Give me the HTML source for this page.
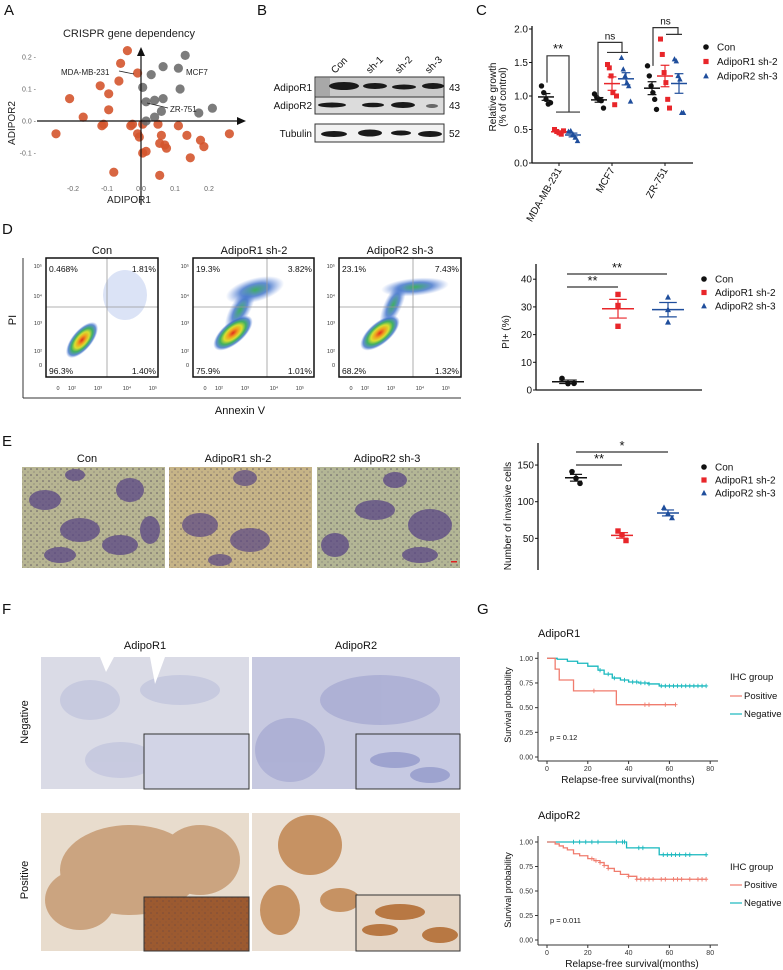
<!DOCTYPE html>
<html><head><meta charset="utf-8"><style>
html,body{margin:0;padding:0;background:#fff}
svg{display:block;font-family:"Liberation Sans",Arial,sans-serif}
</style></head><body>
<svg id="fig" width="783" height="970" viewBox="0 0 783 970" xmlns="http://www.w3.org/2000/svg">
<defs>
<radialGradient id="dens" cx="50%" cy="50%" r="50%">
<stop offset="0" stop-color="#e0301e"/><stop offset="0.25" stop-color="#f0a020"/><stop offset="0.45" stop-color="#d8e030"/><stop offset="0.65" stop-color="#40b060"/><stop offset="0.85" stop-color="#3a6fc8" stop-opacity="0.8"/><stop offset="1" stop-color="#6a8fe0" stop-opacity="0"/>
</radialGradient>
<radialGradient id="densb" cx="50%" cy="50%" r="50%">
<stop offset="0" stop-color="#40b060"/><stop offset="0.5" stop-color="#3a6fc8" stop-opacity="0.8"/><stop offset="1" stop-color="#6a8fe0" stop-opacity="0"/>
</radialGradient>
<pattern id="dots" width="6" height="6" patternUnits="userSpaceOnUse"><circle cx="1" cy="1" r="0.8" fill="#3d3350" opacity="0.7"/><circle cx="4" cy="4" r="0.6" fill="#3d3350" opacity="0.5"/></pattern>
</defs>

<g font-size="15" fill="#111">
<text x="4" y="15">A</text><text x="257" y="15">B</text><text x="476" y="15">C</text>
<text x="2" y="234">D</text><text x="2" y="446">E</text><text x="2" y="614">F</text><text x="477" y="614">G</text>
</g>

<g id="panelA">
<text x="129" y="37" font-size="11" text-anchor="middle" fill="#222">CRISPR gene dependency</text>
<g id="aPts"></g>
<line x1="37" y1="121" x2="240" y2="121" stroke="#111" stroke-width="1.2"/>
<polygon points="246,121 237,117 237,125" fill="#111"/>
<line x1="141" y1="205" x2="141" y2="54" stroke="#111" stroke-width="1.2"/>
<polygon points="141,47 137,56 145,56" fill="#111"/>
<g id="aTicks" font-size="7" fill="#666"></g>
<text x="129" y="203" font-size="10" text-anchor="middle" fill="#222">ADIPOR1</text>
<text transform="translate(15,123) rotate(-90)" font-size="10" text-anchor="middle" fill="#222">ADIPOR2</text>
<text x="61" y="75" font-size="8" fill="#222">MDA-MB-231</text>
<line x1="119" y1="71" x2="134" y2="74" stroke="#222" stroke-width="0.8"/>
<text x="186" y="75" font-size="8" fill="#222">MCF7</text>
<text x="170" y="112" font-size="8" fill="#222">ZR-751</text>
<line x1="147" y1="103" x2="168" y2="108" stroke="#222" stroke-width="0.8"/>
</g>

<g id="panelB" font-size="10" fill="#111">
<text transform="translate(335,74) rotate(-45)">Con</text>
<text transform="translate(370,74) rotate(-45)">sh-1</text>
<text transform="translate(399,74) rotate(-45)">sh-2</text>
<text transform="translate(429,74) rotate(-45)">sh-3</text>
<rect x="315" y="77" width="129" height="20" fill="#c9c9c9" stroke="#333"/>
<rect x="315" y="97" width="129" height="17" fill="#dcdcdc" stroke="#333"/>
<rect x="315" y="124" width="129" height="18" fill="#f2f2f2" stroke="#333"/>
<rect x="316" y="78" width="14" height="18" fill="#888" opacity="0.5"/>
<g fill="#1a1a1a">
<ellipse cx="344" cy="86" rx="15" ry="4"/><ellipse cx="375" cy="86" rx="12" ry="3"/><ellipse cx="404" cy="87" rx="12" ry="2.5"/><ellipse cx="433" cy="86" rx="11" ry="3"/>
<ellipse cx="332" cy="105" rx="14" ry="2.5"/><ellipse cx="373" cy="105" rx="11" ry="2.3"/><ellipse cx="403" cy="105" rx="12" ry="3"/><ellipse cx="432" cy="106" rx="6" ry="2" opacity="0.6"/>
<ellipse cx="334" cy="134" rx="13" ry="3"/><ellipse cx="370" cy="133" rx="12" ry="3.5"/><ellipse cx="401" cy="133" rx="10" ry="2.5"/><ellipse cx="430" cy="134" rx="12" ry="3"/>
</g>
<text x="312" y="91" text-anchor="end">AdipoR1</text>
<text x="312" y="109" text-anchor="end">AdipoR2</text>
<text x="312" y="137" text-anchor="end">Tubulin</text>
<text x="449" y="91">43</text>
<text x="449" y="109">43</text>
<text x="449" y="137">52</text>
</g>

<g id="panelC">
<text transform="translate(496,97) rotate(-90)" font-size="10" text-anchor="middle" fill="#111">Relative growth</text>
<text transform="translate(506,97) rotate(-90)" font-size="10" text-anchor="middle" fill="#111">(% of control)</text>
<g id="cAxis"></g><g id="cMarks"></g>
<g id="cLegend" font-size="10" fill="#111"></g>
</g>

<g id="panelD">
<g font-size="11" text-anchor="middle" fill="#111">
<text x="102" y="254">Con</text>
<text x="254" y="254">AdipoR1 sh-2</text>
<text x="400" y="254">AdipoR2 sh-3</text>
</g>
<g id="flowPlots"></g>
<line x1="23" y1="258" x2="23" y2="398" stroke="#333"/>
<line x1="23" y1="398" x2="461" y2="398" stroke="#333"/>
<text transform="translate(16,320) rotate(-90)" font-size="11" text-anchor="middle" fill="#111">PI</text>
<text x="240" y="414" font-size="11" text-anchor="middle" fill="#111">Annexin V</text>
</g>

<g id="panelDr">
<text transform="translate(509,332) rotate(-90)" font-size="10" text-anchor="middle" fill="#111">PI+ (%)</text>
<g id="dAxis"></g><g id="dMarks"></g><g id="dLegend" font-size="10" fill="#111"></g>
</g>

<g id="panelE">
<g font-size="11" text-anchor="middle" fill="#111">
<text x="87" y="462">Con</text>
<text x="238" y="462">AdipoR1 sh-2</text>
<text x="387" y="462">AdipoR2 sh-3</text>
</g>
<g>
<rect x="22" y="467" width="143" height="101" fill="#b7b592"/>
<rect x="22" y="467" width="143" height="101" fill="url(#dots)"/>
<g fill="#5a4785" opacity="0.75"><ellipse cx="45" cy="500" rx="16" ry="10"/><ellipse cx="80" cy="530" rx="20" ry="12"/><ellipse cx="130" cy="490" rx="14" ry="12"/><ellipse cx="120" cy="545" rx="18" ry="10"/><ellipse cx="60" cy="555" rx="16" ry="8"/><ellipse cx="75" cy="475" rx="10" ry="6"/><ellipse cx="150" cy="530" rx="10" ry="14"/></g>
</g>
<g>
<rect x="169" y="467" width="143" height="101" fill="#c6b487"/>
<rect x="169" y="467" width="143" height="101" fill="url(#dots)"/>
<g fill="#5a4785" opacity="0.7"><ellipse cx="245" cy="478" rx="12" ry="8"/><ellipse cx="200" cy="525" rx="18" ry="12"/><ellipse cx="250" cy="540" rx="20" ry="12"/><ellipse cx="220" cy="560" rx="12" ry="6"/></g>
</g>
<g>
<rect x="317" y="467" width="143" height="101" fill="#b3b695"/>
<rect x="317" y="467" width="143" height="101" fill="url(#dots)"/>
<g fill="#5a4785" opacity="0.75"><ellipse cx="395" cy="480" rx="12" ry="8"/><ellipse cx="375" cy="510" rx="20" ry="10"/><ellipse cx="430" cy="525" rx="22" ry="16"/><ellipse cx="335" cy="545" rx="14" ry="12"/><ellipse cx="420" cy="555" rx="18" ry="8"/></g>
<rect x="451" y="561" width="6" height="1.5" fill="#d22"/>
</g>
</g>

<g id="panelEr">
<text transform="translate(511,516) rotate(-90)" font-size="10" text-anchor="middle" fill="#111">Number of invasive cells</text>
<g id="eAxis"></g><g id="eMarks"></g><g id="eLegend" font-size="10" fill="#111"></g>
</g>

<g id="panelF">
<text x="145" y="649" font-size="11" text-anchor="middle" fill="#111">AdipoR1</text>
<text x="356" y="649" font-size="11" text-anchor="middle" fill="#111">AdipoR2</text>
<text transform="translate(28,722) rotate(-90)" font-size="11" text-anchor="middle" fill="#111">Negative</text>
<text transform="translate(28,880) rotate(-90)" font-size="11" text-anchor="middle" fill="#111">Positive</text>
<g>
<rect x="41" y="657" width="208" height="132" fill="#dadbe6"/>
<g fill="#c3c6de" opacity="0.8"><ellipse cx="90" cy="700" rx="30" ry="20"/><ellipse cx="180" cy="690" rx="40" ry="15"/><ellipse cx="120" cy="760" rx="35" ry="18"/></g>
<path d="M100 657 L106 672 L114 657Z M150 657 L155 684 L165 657Z" fill="#fff"/>
<rect x="144" y="734" width="105" height="55" fill="#d2d4e6" stroke="#333"/>
</g>
<g>
<rect x="252" y="657" width="208" height="132" fill="#c7c9e0"/>
<g fill="#a9acd3" opacity="0.8"><ellipse cx="290" cy="750" rx="35" ry="32"/><ellipse cx="380" cy="700" rx="60" ry="25"/></g>
<rect x="356" y="734" width="104" height="55" fill="#c6c9e2" stroke="#333"/>
<g fill="#8d93c8" opacity="0.7"><ellipse cx="395" cy="760" rx="25" ry="8"/><ellipse cx="430" cy="775" rx="20" ry="8"/></g>
</g>
<g>
<rect x="41" y="813" width="208" height="138" fill="#e8dccd"/>
<g fill="#c79b73" opacity="0.85"><ellipse cx="130" cy="870" rx="70" ry="45"/><ellipse cx="200" cy="860" rx="40" ry="35"/><ellipse cx="80" cy="900" rx="35" ry="30"/></g>
<rect x="144" y="897" width="105" height="54" fill="#9c5a30" stroke="#333"/>
<rect x="144" y="897" width="105" height="54" fill="url(#dots)" opacity="0.5"/>
</g>
<g>
<rect x="252" y="813" width="208" height="138" fill="#eadfd3"/>
<g fill="#c08550" opacity="0.85"><ellipse cx="310" cy="845" rx="32" ry="30"/><ellipse cx="280" cy="910" rx="20" ry="25"/><ellipse cx="340" cy="900" rx="20" ry="12"/></g>
<rect x="356" y="895" width="104" height="56" fill="#e5d6c6" stroke="#333"/>
<g fill="#b87843"><ellipse cx="400" cy="912" rx="25" ry="8"/><ellipse cx="380" cy="930" rx="18" ry="6"/><ellipse cx="440" cy="935" rx="18" ry="8"/></g>
</g>
</g>

<g id="panelG">
<text x="538" y="637" font-size="11" fill="#111">AdipoR1</text>
<text x="538" y="819" font-size="11" fill="#111">AdipoR2</text>
<g id="km1"></g><g id="km2"></g>
<text x="628" y="783" font-size="10" text-anchor="middle" fill="#111">Relapse-free survival(months)</text>
<text x="632" y="967" font-size="10" text-anchor="middle" fill="#111">Relapse-free survival(months)</text>
<text transform="translate(511,705) rotate(-90)" font-size="9" text-anchor="middle" fill="#111">Survival probability</text>
<text transform="translate(511,890) rotate(-90)" font-size="9" text-anchor="middle" fill="#111">Survival probability</text>
<text x="550" y="740" font-size="7.5" fill="#111">p = 0.12</text>
<text x="550" y="923" font-size="7.5" fill="#111">p = 0.011</text>
<g font-size="9.5" fill="#111">
<text x="730" y="680">IHC group</text>
<text x="744" y="699">Positive</text>
<text x="744" y="717">Negative</text>
<text x="730" y="870">IHC group</text>
<text x="744" y="888">Positive</text>
<text x="744" y="906">Negative</text>
</g>
<g stroke-width="1.2">
<line x1="730" y1="696" x2="742" y2="696" stroke="#f07c6e"/><line x1="730" y1="714" x2="742" y2="714" stroke="#17b8be"/>
<line x1="730" y1="885" x2="742" y2="885" stroke="#f07c6e"/><line x1="730" y1="903" x2="742" y2="903" stroke="#17b8be"/>
</g>
</g>
</svg>

<script>
var aRedX = [-0.04,-0.06,-0.01,-0.065,-0.12,-0.21,-0.095,-0.095,-0.17,-0.25,-0.115,-0.11,-0.03,-0.025,0.005,-0.01,-0.005,0.05,0.06,0.055,0.07,0.075,0.11,0.135,0.175,0.185,0.145,0.26,0.005,0.015,-0.08,0.055];
var aRedY = [0.22,0.18,0.15,0.125,0.11,0.07,0.085,0.035,0.012,-0.04,-0.015,-0.01,-0.015,-0.01,-0.01,-0.04,-0.05,-0.01,-0.045,-0.07,-0.075,-0.085,-0.015,-0.045,-0.06,-0.08,-0.115,-0.04,-0.1,-0.095,-0.16,-0.17];
var aGrayX = [0.13,0.065,0.11,0.03,0.005,0.115,0.015,0.04,0.065,0.06,0.21,0.17,0.04,0.015];
var aGrayY = [0.205,0.17,0.165,0.145,0.105,0.1,0.06,0.065,0.07,0.03,0.04,0.025,0.012,0.0];
var aXTicks = [-0.2,-0.1,0.0,0.1,0.2];
var aYTicks = [-0.1,0.0,0.1,0.2];
var cGroups = ["MDA-MB-231","MCF7","ZR-751"];
var cCon = [[1.15,1.05,0.95,0.88,0.9],[1.03,0.98,0.95,0.93,0.82],[1.45,1.3,1.15,1.05,0.95,0.8]];
var cR1 = [[0.5,0.47,0.45,0.43,0.48],[1.47,1.42,1.3,1.05,0.87,1.0],[1.85,1.62,1.35,1.2,0.95,0.82]];
var cR2 = [[0.47,0.48,0.43,0.38,0.33],[1.57,1.4,1.3,1.2,1.15,0.92],[1.55,1.52,1.3,1.25,0.75,0.75]];
var cYTicks = [0,0.5,1.0,1.5,2.0];
var dCon = [4.2,2.3,2.4];
var dR1 = [34.5,30.5,23];
var dR2 = [33.5,29,24.5];
var dYTicks = [0,10,20,30,40];
var eCon = [141,132,125];
var eR1 = [60,55,47];
var eR2 = [92,84,78];
var eYTicks = [50,100,150];
var km1NegT = [0,5,10,15,20,25,28,32,36,40,45,50,55,78];
var km1NegS = [1,0.99,0.97,0.95,0.92,0.88,0.84,0.8,0.78,0.76,0.75,0.74,0.72,0.72];
var km1PosT = [0,4,6,13,34,63];
var km1PosS = [1,0.89,0.78,0.67,0.53,0.53];
var km1NegCens = [26,30,33,38,42,44,46,48,50,56,58,60,62,64,66,68,70,72,74,76,78];
var km1PosCens = [23,48,50,58,63];
var km2NegT = [0,39,55,78];
var km2NegS = [1,0.94,0.87,0.87];
var km2PosT = [0,4,6,8,10,13,16,20,23,26,28,30,33,36,40,44,78];
var km2PosS = [1,0.98,0.96,0.94,0.92,0.88,0.86,0.83,0.81,0.79,0.76,0.73,0.7,0.67,0.65,0.62,0.62];
var km2NegCens = [13,16,19,22,25,34,37,38,45,47,57,59,61,63,65,68,70,78];
var km2PosCens = [22,24,26,28,30,40,44,46,48,50,52,56,58,62,64,66,70,74,76,78];
var kmXTicks = [0,20,40,60,80];
var kmYTicks = [0,0.25,0.5,0.75,1.0];

var NS = "http://www.w3.org/2000/svg";
function mk(tag, attrs, parent){var e=document.createElementNS(NS,tag);for(var k in attrs)e.setAttribute(k,attrs[k]);parent.appendChild(e);return e;}
function fmt2(v){return v.toFixed(2);}

function ax(v){return 141+v*340;}
function ay(v){return 121-v*320;}
var aPts=document.getElementById('aPts');
for(var i=0;i<aRedX.length;i++){var c=mk('circle',{cx:ax(aRedX[i]),cy:ay(aRedY[i]),r:4.6,fill:'#d4552e','fill-opacity':0.9},aPts);

}
for(var i=0;i<aGrayX.length;i++){var c=mk('circle',{cx:ax(aGrayX[i]),cy:ay(aGrayY[i]),r:4.6,fill:'#6e6e6e','fill-opacity':0.9},aPts);

}
var aT=document.getElementById('aTicks');
aXTicks.forEach(function(v){var t=mk('text',{x:ax(v),y:191,'text-anchor':'middle'},aT);t.textContent=v.toFixed(1);

});
aYTicks.forEach(function(v){var t=mk('text',{x:36,y:ay(v)+2.5,'text-anchor':'end'},aT);t.textContent=v.toFixed(1)+' -';

});

function marker(g,type,x,y,s){
 var e;
 if(type==0) e=mk('circle',{cx:x,cy:y,r:s,fill:'#111'},g);
 else if(type==1) e=mk('rect',{x:x-s,y:y-s,width:2*s,height:2*s,fill:'#e8262a'},g);
 else e=mk('polygon',{points:(x)+','+(y-s*1.2)+' '+(x-s*1.1)+','+(y+s*0.9)+' '+(x+s*1.1)+','+(y+s*0.9),fill:'#1f4e9c'},g);
 
 
}
var colors=['#111','#e8262a','#1f4e9c'];
function meanSem(arr){var m=arr.reduce(function(a,b){return a+b;},0)/arr.length;var sd=Math.sqrt(arr.reduce(function(a,b){return a+(b-m)*(b-m);},0)/(arr.length-1));return [m,sd/Math.sqrt(arr.length)];}
function errBar(g,x,arr,yf,col,w){
 var ms=meanSem(arr);var m=ms[0],s=ms[1];
 var l=mk('line',{x1:x-w,x2:x+w,y1:yf(m),y2:yf(m),stroke:col,'stroke-width':1.5},g);
 
 
 var v=mk('line',{x1:x,x2:x,y1:yf(m+s),y2:yf(m-s),stroke:col,'stroke-width':1.2},g);
 
 
 mk('line',{x1:x-w*0.55,x2:x+w*0.55,y1:yf(m+s),y2:yf(m+s),stroke:col,'stroke-width':1.2},g);
 mk('line',{x1:x-w*0.55,x2:x+w*0.55,y1:yf(m-s),y2:yf(m-s),stroke:col,'stroke-width':1.2},g);
}
function spreadX(n,i,w){if(n<=1)return 0;return (i/(n-1)-0.5)*w;}
function legend(gid,x,y0,dy){
 var g=document.getElementById(gid);var names=['Con','AdipoR1 sh-2','AdipoR2 sh-3'];
 for(var i=0;i<3;i++){marker(g,i,x,y0+i*dy,i==0?2.8:2.6);var t=mk('text',{x:x+11,y:y0+i*dy+3.5},g);t.textContent=names[i];
 
 }
}

function cy(v){return 163-v*67;}
var cA=document.getElementById('cAxis');
mk('line',{x1:532,y1:26,x2:532,y2:163,stroke:'#111','stroke-width':1.3},cA);
mk('line',{x1:532,y1:163,x2:693,y2:163,stroke:'#111','stroke-width':1.3},cA);
cYTicks.forEach(function(v){mk('line',{x1:529,x2:532,y1:cy(v),y2:cy(v),stroke:'#111'},cA);
var t=mk('text',{x:528,y:cy(v)+3.5,'text-anchor':'end','font-size':10,fill:'#111'},cA);t.textContent=v.toFixed(1);

});
var cCenters=[559,612,665];
cGroups.forEach(function(gname,gi){var x=cCenters[gi];mk('line',{x1:x,x2:x,y1:163,y2:166,stroke:'#111'},cA);
var t=mk('text',{transform:'translate('+(x+3)+',170) rotate(-60)','text-anchor':'end','font-size':10,fill:'#111'},cA);t.textContent=gname;

});
var cM=document.getElementById('cMarks');
var cOff=[-13,0,14];
[cCon,cR1,cR2].forEach(function(ser,si){ser.forEach(function(arr,gi){var xc=cCenters[gi]+cOff[si];
 arr.forEach(function(v,i){marker(cM,si,xc+spreadX(arr.length,i,9),cy(v),si==0?2.7:2.5);});
 errBar(cM,xc,arr,cy,colors[si],8);});});
var br=[[547,cy(1.2),cy(1.6),569,cy(0.76),556,580],[598,cy(0.98),cy(1.8),622,cy(1.65),607,628],[653,cy(1.45),cy(2.02),678,cy(1.92),666,682]];
var brLbl=['**','ns','ns'];
br.forEach(function(b,i){var p=mk('path',{d:'M'+b[0]+','+b[1]+' V'+b[2]+' H'+b[3]+' V'+b[4]+' M'+b[5]+','+b[4]+' H'+b[6],fill:'none',stroke:'#333','stroke-width':1.2},cM);


var t=mk('text',{x:(b[0]+b[3])/2,y:b[2]-3,'text-anchor':'middle','font-size':i==0?13:10,fill:'#111'},cM);t.textContent=brLbl[i];

});
legend('cLegend',706,47,14.5);

var fp=document.getElementById('flowPlots');
var flows=[
 {x:46,w:112,qx:107,pct:['0.468%','1.81%','96.3%','1.40%'],cl:[[82,340,22,10,-50,'url(#dens)'],[125,295,22,25,0,'#dbe3f6']]},
 {x:193,w:121,qx:267,pct:['19.3%','3.82%','75.9%','1.01%'],cl:[[255,290,30,12,-15,'url(#densb)'],[240,310,25,10,-60,'url(#densb)'],[233,333,24,11,-40,'url(#dens)']]},
 {x:339,w:122,qx:413,pct:['23.1%','7.43%','68.2%','1.32%'],cl:[[415,287,34,9,-5,'url(#densb)'],[393,305,25,9,-65,'url(#densb)'],[380,333,24,11,-40,'url(#dens)']]}
];
var flowXT=['0','10²','10³','10⁴','10⁵'];var flowXTpos=[12,26,52,81,107];
var flowYT=['10⁵','10⁴','10³','10²','0'];var flowYTpos=[268,298,325,353,367];
flows.forEach(function(f,fi){
 var g=mk('g',{},fp);
 
 
 mk('rect',{x:f.x,y:258,width:f.w,height:119,fill:'#fff'},g);
 f.cl.forEach(function(c){mk('ellipse',{cx:c[0],cy:c[1],rx:c[2],ry:c[3],transform:'rotate('+c[4]+' '+c[0]+' '+c[1]+')',fill:c[5]},g);});
 mk('line',{x1:f.qx,x2:f.qx,y1:258,y2:377,stroke:'#999','stroke-width':0.8},g);
 mk('line',{x1:f.x,x2:f.x+f.w,y1:307,y2:307,stroke:'#999','stroke-width':0.8},g);
 mk('rect',{x:f.x,y:258,width:f.w,height:119,fill:'none',stroke:'#111','stroke-width':1.5},g);
 var P=[[f.x+3,272,'start'],[f.x+f.w-2,272,'end'],[f.x+3,374,'start'],[f.x+f.w-2,374,'end']];
 P.forEach(function(p,i){var t=mk('text',{x:p[0],y:p[1],'text-anchor':p[2],'font-size':8.5,fill:'#111'},g);t.textContent=f.pct[i];
 
 });
 flowXT.forEach(function(s,i){var t=mk('text',{x:f.x+flowXTpos[i],y:390,'font-size':5.5,'text-anchor':'middle',fill:'#333'},g);t.textContent=s;});
 flowYT.forEach(function(s,i){var t=mk('text',{x:f.x-4,y:flowYTpos[i],'font-size':5.5,'text-anchor':'end',fill:'#333'},g);t.textContent=s;});
});

function dy(v){return 390-v*2.77;}
var dA=document.getElementById('dAxis');
mk('line',{x1:536,y1:264,x2:536,y2:390,stroke:'#111','stroke-width':1.3},dA);
mk('line',{x1:536,y1:390,x2:702,y2:390,stroke:'#111','stroke-width':1.3},dA);
dYTicks.forEach(function(v){mk('line',{x1:533,x2:536,y1:dy(v),y2:dy(v),stroke:'#111'},dA);
var t=mk('text',{x:532,y:dy(v)+3.5,'text-anchor':'end','font-size':10,fill:'#111'},dA);t.textContent=v;

});
var dM=document.getElementById('dMarks');var dC=[568,618,668];
[dCon,dR1,dR2].forEach(function(arr,si){arr.forEach(function(v,i){marker(dM,si,dC[si]+(si==0?spreadX(3,i,12):0),dy(v),si==0?2.8:2.7);});errBar(dM,dC[si],arr,dy,colors[si],16);});
[[567,618,287,'**'],[567,667,274,'**']].forEach(function(b){var l=mk('line',{x1:b[0],x2:b[1],y1:b[2],y2:b[2],stroke:'#333','stroke-width':1.2},dM);


var t=mk('text',{x:(b[0]+b[1])/2,y:b[2]-2,'text-anchor':'middle','font-size':13,fill:'#111'},dM);t.textContent=b[3];});
legend('dLegend',704,279,13.5);

function ey(v){return 575-v*0.733;}
var eA=document.getElementById('eAxis');
mk('line',{x1:538,y1:443,x2:538,y2:570,stroke:'#111','stroke-width':1.3},eA);
eYTicks.forEach(function(v){mk('line',{x1:535,x2:538,y1:ey(v),y2:ey(v),stroke:'#111'},eA);
var t=mk('text',{x:534,y:ey(v)+3.5,'text-anchor':'end','font-size':10,fill:'#111'},eA);t.textContent=v;

});
var eM=document.getElementById('eMarks');var eC=[576,622,668];
[eCon,eR1,eR2].forEach(function(arr,si){arr.forEach(function(v,i){marker(eM,si,eC[si]+spreadX(3,i,8),ey(v),si==0?2.8:2.7);});errBar(eM,eC[si],arr,ey,colors[si],11);});
[[576,622,465,'**'],[576,668,452,'*']].forEach(function(b){var l=mk('line',{x1:b[0],x2:b[1],y1:b[2],y2:b[2],stroke:'#333','stroke-width':1.2},eM);


var t=mk('text',{x:(b[0]+b[1])/2,y:b[2]-2,'text-anchor':'middle','font-size':13,fill:'#111'},eM);t.textContent=b[3];});
legend('eLegend',704,467,13);

function gx(t){return 547+t*2.04;}
function stepVal(T,S,t){var s=S[0];for(var i=0;i<T.length;i++){if(T[i]<=t)s=S[i];}return s;}
function km(gid,yf,top,bottom,axisY,series){
 var g=document.getElementById(gid);
 mk('line',{x1:538,y1:top,x2:538,y2:axisY,stroke:'#333'},g);
 mk('line',{x1:538,y1:axisY,x2:718,y2:axisY,stroke:'#333'},g);
 kmYTicks.forEach(function(v){mk('line',{x1:535,x2:538,y1:yf(v),y2:yf(v),stroke:'#333'},g);
 var t=mk('text',{x:533,y:yf(v)+2.5,'text-anchor':'end','font-size':7,fill:'#333'},g);t.textContent=fmt2(v);
 
 });
 kmXTicks.forEach(function(v){mk('line',{x1:gx(v),x2:gx(v),y1:axisY,y2:axisY+3,stroke:'#333'},g);
 var t=mk('text',{x:gx(v),y:axisY+10,'text-anchor':'middle','font-size':7,fill:'#333'},g);t.textContent=v;
 
 });
 series.forEach(function(s){var T=s[0],S=s[1],C=s[2],col=s[3];
  var d='M'+gx(T[0])+','+yf(S[0]);
  for(var i=1;i<T.length;i++){d+=' H'+gx(T[i])+' V'+yf(S[i]);}
  var p=mk('path',{d:d,fill:'none',stroke:col,'stroke-width':1.3},g);
  
  
  C.forEach(function(t){var y=yf(stepVal(T,S,t)),x=gx(t);
   var c=mk('path',{d:'M'+(x-2)+','+y+' H'+(x+2)+' M'+x+','+(y-2.2)+' V'+(y+2.2),stroke:col,'stroke-width':0.9},g);
   
   });
 });
}
km('km1',function(s){return 757-s*98.7;},652,757,761,[[km1NegT,km1NegS,km1NegCens,'#17b8be'],[km1PosT,km1PosS,km1PosCens,'#f07c6e']]);
km('km2',function(s){return 940-s*98;},836,940,945,[[km2NegT,km2NegS,km2NegCens,'#17b8be'],[km2PosT,km2PosS,km2PosCens,'#f07c6e']]);
</script>
</body></html>
